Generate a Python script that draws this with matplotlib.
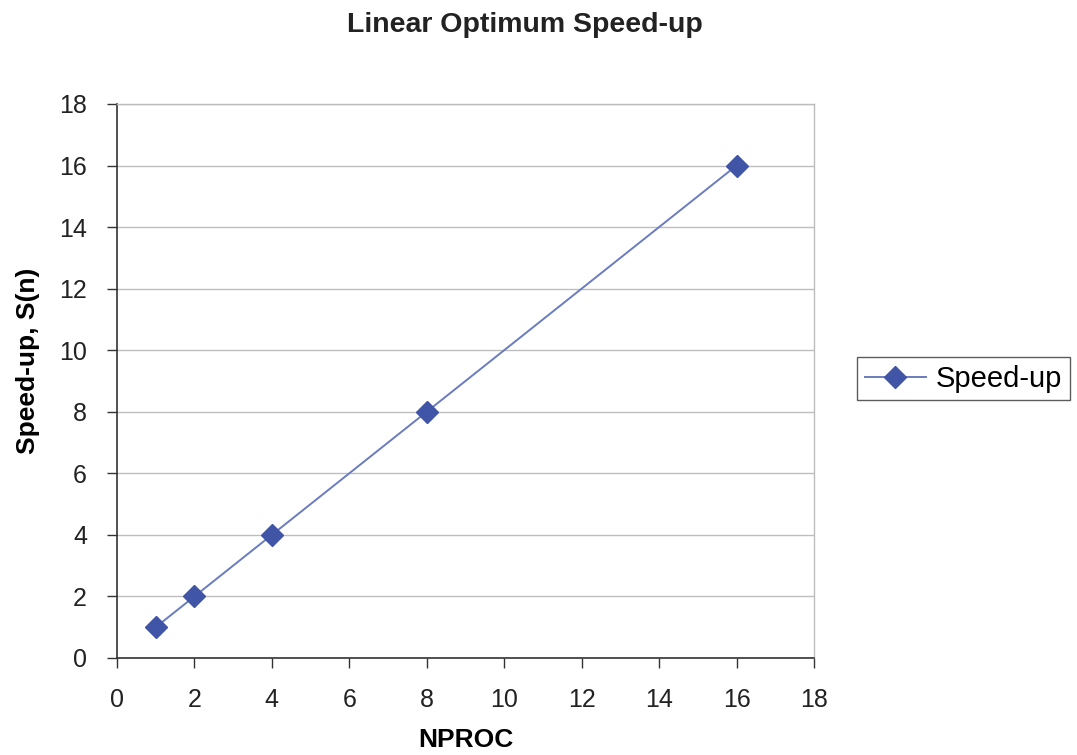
import matplotlib.pyplot as plt
import numpy as np

plt.rcParams['font.family'] = ['Liberation Sans', 'DejaVu Sans']

nproc = [1, 2, 4, 8, 16]
speedup = [1, 2, 4, 8, 16]
ticks = np.arange(0, 20, 2)

fig = plt.figure(figsize=(10.77, 7.55), dpi=100)
ax = fig.add_axes([0.1086, 0.1285, 0.6472, 0.7338])

ax.plot(nproc, speedup, color='#6a7cc0', linewidth=1.4, marker='D',
        markersize=11.5, markerfacecolor='#4055a6', markeredgecolor='#4055a6',
        label='Speed-up', zorder=3)

ax.set_xlim(0, 18)
ax.set_ylim(0, 18)
ax.set_xticks(ticks)
ax.set_yticks(ticks)
ax.tick_params(labelsize=18, direction='out', length=7.5, width=1, color='#333333',
               labelcolor='#222222', pad=14)
ax.grid(axis='y', color='#bdbdbd', linewidth=1)
ax.set_axisbelow(True)

for side in ['left', 'bottom']:
    ax.spines[side].set_color('#333333')
    ax.spines[side].set_linewidth(1.2)
for side in ['top', 'right']:
    ax.spines[side].set_color('#bdbdbd')
    ax.spines[side].set_linewidth(1)

ax.set_xlabel('NPROC', fontsize=19, fontweight='bold')
ax.xaxis.set_label_coords(0.5, -0.127)
ax.set_ylabel('Speed-up, S(n)', fontsize=19, fontweight='bold')
ax.yaxis.set_label_coords(-0.110, 0.536)
fig.text(525 / 1077, 1 - 32 / 755, 'Linear Optimum Speed-up', fontsize=20.5,
         fontweight='bold', ha='center', va='baseline', color='#222222')

ax.legend(loc='center left', bbox_to_anchor=(1.062, 0.504), borderaxespad=0,
          fontsize=21, frameon=True, fancybox=False, edgecolor='#333333',
          handlelength=2.1, handletextpad=0.35, borderpad=0.25)

fig.savefig('out.png', dpi=100)
